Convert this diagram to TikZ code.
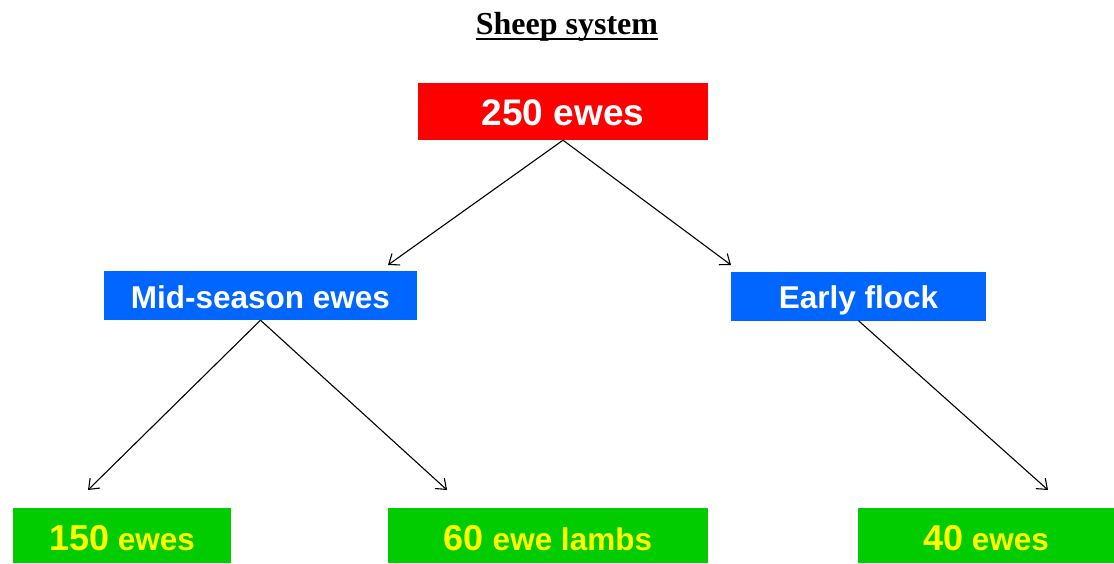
\documentclass[tikz,border=0pt]{standalone}
\usepackage{fontspec}
\setmainfont{Liberation Serif}
\newfontfamily\arialfont{Liberation Sans}
\usetikzlibrary{arrows.meta}
\definecolor{boxred}{RGB}{255,0,0}
\definecolor{boxblue}{RGB}{0,102,255}
\definecolor{boxgreen}{RGB}{0,204,0}
\definecolor{txtyellow}{RGB}{255,255,0}
\newcommand{\bignum}[1]{{\fontsize{36}{40}\selectfont #1}}
\begin{document}
\begin{tikzpicture}[x=1pt,y=-1pt,
  box/.style={draw=none,inner sep=0pt,anchor=center,text depth=0pt,
    font=\arialfont\bfseries\fontsize{31.5}{36}\selectfont},
  redbox/.style={box,fill=boxred,text=white,minimum width=290pt,minimum height=57pt,
    text height=28.5pt,font=\arialfont\bfseries\fontsize{37}{42}\selectfont},
  bluebox/.style={box,fill=boxblue,text=white,minimum height=49pt,text height=25.6pt},
  greenbox/.style={box,fill=boxgreen,text=txtyellow,minimum height=55pt,text height=29.8pt},
  conn/.style={draw=black,line width=1.1pt,-{Straight Barb[length=9pt,width=14pt,line width=1.1pt]}}
]
\useasboundingbox (0,0) rectangle (1114,563);
\node[inner sep=0pt,anchor=base,font=\bfseries\fontsize{32}{38}\selectfont] (title) at (567,34) {Sheep system};
\draw[line width=2pt] ([yshift=-5pt]title.base west) -- ([yshift=-5pt]title.base east);

\node[redbox] (top) at (563,111.5) {250 ewes};
\node[bluebox,minimum width=313pt] (mid) at (260.5,295.5) {Mid-season ewes};
\node[bluebox,minimum width=255pt] (early) at (858.5,296) {Early flock};
\node[greenbox,minimum width=218pt] (g1) at (122,535.5) {\bignum{150} ewes};
\node[greenbox,minimum width=320pt] (g2) at (548,535.5) {\bignum{60} ewe lambs};
\node[greenbox,minimum width=256pt] (g3) at (986,535.5) {\bignum{40} ewes};

\coordinate (a1) at (388,265);
\coordinate (a2) at (731,265);
\coordinate (b1) at (88,490);
\coordinate (b2) at (447,490);
\coordinate (b3) at (1048,490);

\draw[conn] (top.south) -- (a1);
\draw[conn] (top.south) -- (a2);
\draw[conn] (mid.south) -- (b1);
\draw[conn] (mid.south) -- (b2);
\draw[conn] (early.south) -- (b3);
\end{tikzpicture}
\end{document}
